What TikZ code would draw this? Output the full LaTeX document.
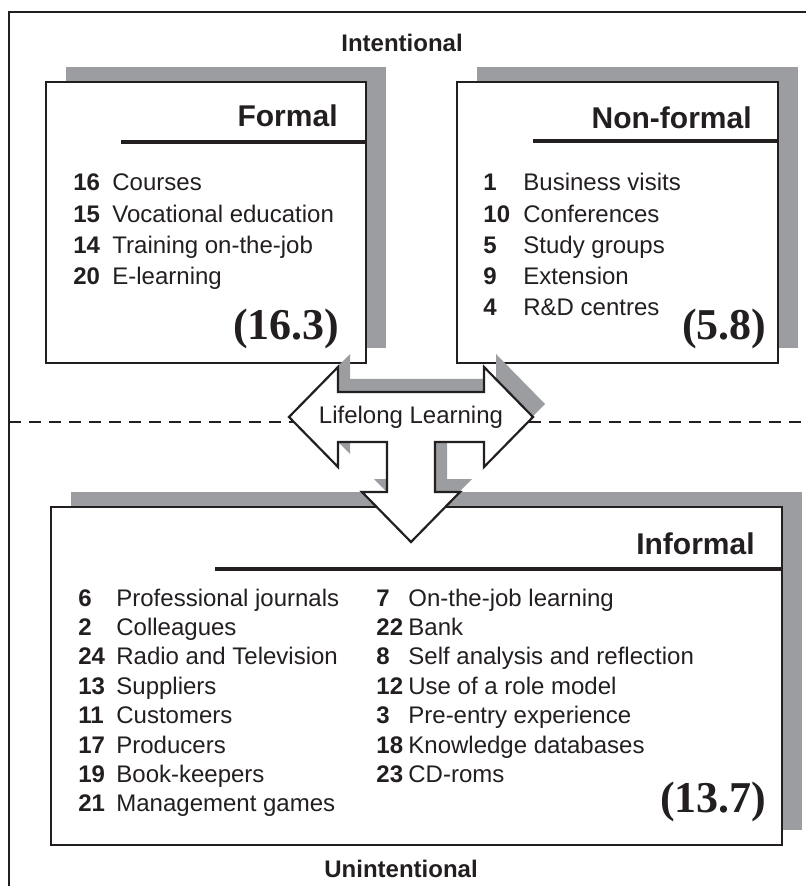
\documentclass[tikz,border=0pt]{standalone}
\usepackage{fontspec}
\setmainfont{Liberation Sans}
\newfontfamily\valuefont{Liberation Serif}
\usetikzlibrary{shadows}
\definecolor{shadowgray}{RGB}{156,157,161}
\definecolor{ink}{RGB}{35,31,32}
\tikzstyle{frame} = [draw=ink, line width=1.15pt]
\tikzstyle{dashline} = [draw=ink, line width=1pt, dash pattern=on 6pt off 4pt]
\tikzstyle{box} = [rectangle, draw=ink, line width=1.15pt, fill=white, anchor=north west, inner sep=0pt, outer sep=0pt, drop shadow={shadow xshift=10pt, shadow yshift=7.5pt, fill=shadowgray, opacity=1}]
\tikzstyle{boxtitle} = [font=\bfseries\fontsize{15}{18}\selectfont, text=ink, anchor=base east, inner sep=0pt]
\tikzstyle{titlerule} = [draw=ink, line width=2pt]
\tikzstyle{itemlist} = [text=ink, anchor=base west, inner sep=0pt]
\tikzstyle{valuetext} = [font=\valuefont\bfseries\fontsize{22}{26}\selectfont, text=ink, anchor=base east, inner sep=0pt]
\tikzstyle{levellabel} = [font=\bfseries\fontsize{12}{14}\selectfont, text=ink, anchor=base, inner sep=0pt]
\tikzstyle{bigarrow} = [fill=white, draw=ink, line width=1.1pt]
\newcommand{\lifelongpath}{(289,417) -- (338,367) -- (338,392) -- (484,392) -- (484,367) -- (533,417) -- (484,467) -- (484,442) -- (435,442) -- (435,492) -- (460,492) -- (411,542) -- (362,492) -- (387,492) -- (387,442) -- (338,442) -- (338,467) -- cycle}

\begin{document}
\begin{tikzpicture}[x=0.5pt, y=-0.5pt]
    \useasboundingbox (0,0) rectangle (806,886);

    % Frame and dividing line
    \draw [frame] (9,886) |- (806,12);
    \coordinate (dashleft) at (9,422);
    \coordinate (dashright) at (806,422);
    \draw [dashline] (dashleft) -- (dashright);

    \node (intentional) [levellabel] at (402,52) {Intentional};
    \node (unintentional) [levellabel] at (401,877) {Unintentional};

    % Formal
    \node (formal) [box, minimum width=160pt, minimum height=140.5pt] at (46,82) {};
    \node (formaltitle) [boxtitle] at (338,127) {Formal};
    \draw [titlerule] (121,142) -- (366,142);
    \node (formallist) [itemlist, font=\fontsize{12}{15.65}\selectfont] at (73,191)
        {\begin{tabular}[t]{@{}p{19.5pt}@{}l@{}}
        \textbf{16} & Courses\\
        \textbf{15} & Vocational education\\
        \textbf{14} & Training on-the-job\\
        \textbf{20} & E-learning
        \end{tabular}};
    \node (formalvalue) [valuetext] at (340,340) {(16.3)};

    % Non-formal
    \node (nonformal) [box, minimum width=160.5pt, minimum height=140.5pt] at (457,82) {};
    \node (nonformaltitle) [boxtitle] at (752,129) {Non-formal};
    \draw [titlerule] (533,141) -- (778,141);
    \node (nonformallist) [itemlist, font=\fontsize{12}{15.6}\selectfont] at (483,191)
        {\begin{tabular}[t]{@{}p{20pt}@{}l@{}}
        \textbf{1} & Business visits\\
        \textbf{10} & Conferences\\
        \textbf{5} & Study groups\\
        \textbf{9} & Extension\\
        \textbf{4} & R\&D centres
        \end{tabular}};
    \node (nonformalvalue) [valuetext] at (767,340) {(5.8)};

    % Informal
    \node (informal) [box, minimum width=365.5pt, minimum height=169pt] at (51,507) {};
    \node (informaltitle) [boxtitle] at (755,554) {Informal};
    \draw [titlerule] (215,569) -- (782,569);
    \node (informallistA) [itemlist, font=\fontsize{12}{14.7}\selectfont] at (78,606)
        {\begin{tabular}[t]{@{}p{19pt}@{}l@{}}
        \textbf{6} & Professional journals\\
        \textbf{2} & Colleagues\\
        \textbf{24} & Radio and Television\\
        \textbf{13} & Suppliers\\
        \textbf{11} & Customers\\
        \textbf{17} & Producers\\
        \textbf{19} & Book-keepers\\
        \textbf{21} & Management games
        \end{tabular}};
    \node (informallistB) [itemlist, font=\fontsize{12}{14.7}\selectfont] at (376,606)
        {\begin{tabular}[t]{@{}p{16pt}@{}l@{}}
        \textbf{7} & On-the-job learning\\
        \textbf{22} & Bank\\
        \textbf{8} & Self analysis and reflection\\
        \textbf{12} & Use of a role model\\
        \textbf{3} & Pre-entry experience\\
        \textbf{18} & Knowledge databases\\
        \textbf{23} & CD-roms
        \end{tabular}};
    \node (informalvalue) [valuetext] at (767,812) {(13.7)};

    % Lifelong learning arrow
    \fill [shadowgray, shift={(12,-13)}] \lifelongpath;
    \path [bigarrow] \lifelongpath;
    \node (lifelong) [anchor=base, inner sep=0pt, text=ink, font=\fontsize{12}{14}\selectfont] at (411,423) {Lifelong Learning};

\end{tikzpicture}
\end{document}
